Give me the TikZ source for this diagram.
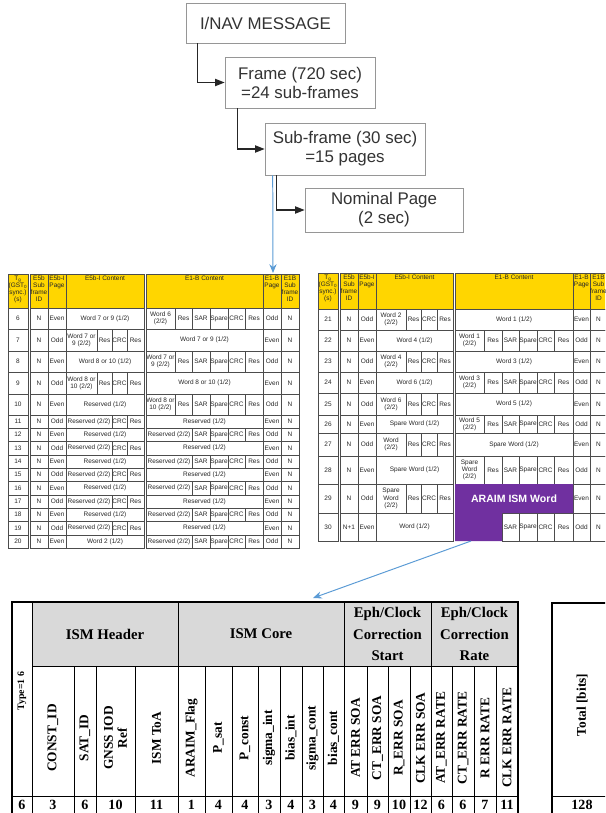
\documentclass[tikz,border=0pt]{standalone}
\usepackage{fontspec}
\setmainfont{Liberation Sans}
\newfontfamily\tnrfont{Liberation Serif}
\usetikzlibrary{arrows.meta}

\definecolor{hdryellow}{RGB}{255,214,0}
\definecolor{ismpurple}{RGB}{112,48,160}
\definecolor{linkblue}{RGB}{91,155,213}
\definecolor{hdrgray}{RGB}{217,217,217}
\definecolor{boxgray}{RGB}{150,150,150}

% one plain cell of the page tables
\newcommand{\tabcell}[5]{%
  \draw[grid] (#1,#2) rectangle (#3,#4);
  \node[cell] (c-#1-#2) at ({(#1+#3)/2},{(#2+#4)/2}) {#5};}
% yellow header cell, text at the top
\newcommand{\hdcell}[5]{%
  \draw[hdr] (#1,#2) rectangle (#3,#4);
  \node[cell, anchor=north] (h-#1-#2) at ({(#1+#3)/2},#2+1) {#5};}
% row start: time, sub-frame, E5b page
\newcommand{\lrow}[5]{%
  \tabcell{\tA}{#2}{\tB}{#3}{#1}\tabcell{\tC}{#2}{\tD}{#3}{#4}\tabcell{\tD}{#2}{\tE}{#3}{#5}}
% E5b-I content
\newcommand{\espan}[3]{\tabcell{\tE}{#1}{\tI}{#2}{#3}}
\newcommand{\eword}[3]{%
  \tabcell{\tE}{#1}{\tF}{#2}{#3}\tabcell{\tF}{#1}{\tG}{#2}{Res}%
  \tabcell{\tG}{#1}{\tH}{#2}{CRC}\tabcell{\tH}{#1}{\tI}{#2}{Res}}
\newcommand{\eres}[2]{%
  \tabcell{\tE}{#1}{\tG}{#2}{Reserved (2/2)}%
  \tabcell{\tG}{#1}{\tH}{#2}{CRC}\tabcell{\tH}{#1}{\tI}{#2}{Res}}
% E1-B content
\newcommand{\bspan}[3]{%
  \tabcell{\tJ}{#1}{\tP}{#2}{#3}\tabcell{\tP}{#1}{\tQ}{#2}{Even}\tabcell{\tQ}{#1}{\tR}{#2}{N}}
\newcommand{\btail}[2]{%
  \tabcell{\tL}{#1}{\tM}{#2}{SAR}\tabcell{\tM}{#1}{\tN}{#2}{Spare}%
  \tabcell{\tN}{#1}{\tO}{#2}{CRC}\tabcell{\tO}{#1}{\tP}{#2}{Res}%
  \tabcell{\tP}{#1}{\tQ}{#2}{Odd}\tabcell{\tQ}{#1}{\tR}{#2}{N}}
\newcommand{\bword}[3]{%
  \tabcell{\tJ}{#1}{\tK}{#2}{#3}\tabcell{\tK}{#1}{\tL}{#2}{Res}\btail{#1}{#2}}
\newcommand{\bres}[2]{\tabcell{\tJ}{#1}{\tL}{#2}{Reserved (2/2)}\btail{#1}{#2}}

\begin{document}
\begin{tikzpicture}[
    x=0.025cm, y=-0.025cm,
    lvl/.style={draw=boxgray, fill=white, align=center, inner sep=0pt, text=black!80,
      font=\fontsize{12}{13.5}\selectfont},
    arr/.style={-{Triangle[length=2.4mm, width=1.8mm]}, line width=0.9pt, draw=black!85},
    link/.style={-{Stealth[length=2.2mm, width=1.8mm]}, draw=linkblue, line width=0.7pt},
    grid/.style={draw=black!70, line width=0.4pt},
    hdr/.style={grid, fill=hdryellow},
    cell/.style={inner sep=0.2pt, align=center, text=black!85, font=\fontsize{4.6}{5.1}\selectfont},
    ism/.style={draw=black, line width=0.7pt},
    ismout/.style={draw=black, line width=1.4pt},
    grp/.style={align=center, font=\tnrfont\bfseries\fontsize{10.5}{15}\selectfont},
    vlab/.style={rotate=90, align=center, font=\tnrfont\bfseries\fontsize{9.5}{10}\selectfont},
    bits/.style={font=\tnrfont\bfseries\fontsize{10}{12}\selectfont}
  ]
  \useasboundingbox (0,0) rectangle (605,813);
  \clip (0,0) rectangle (605,813);

  % message hierarchy
  \node[lvl, minimum width=3.975cm, minimum height=1cm] (inav) at (265.5,23) {I/NAV MESSAGE};
  \node[lvl, minimum width=3.75cm, minimum height=1.275cm] (frame) at (300,82.5) {Frame (720 sec)\\=24 sub-frames};
  \node[lvl, minimum width=4cm, minimum height=1.3cm] (subfr) at (345,149) {Sub-frame (30 sec)\\=15 pages};
  \node[lvl, minimum width=3.95cm, minimum height=1.1cm] (page) at (384,210) {Nominal Page\\(2 sec)};
  \draw[arr] ([xshift=0.3cm]inav.south west) |- (frame.west);
  \draw[arr] ([xshift=0.325cm]frame.south west) |- (subfr.west);
  \draw[arr] ([xshift=0.3cm]subfr.south west) |- (page.west);
  \coordinate (ltop) at (273,273);
  \draw[link] ([xshift=0.2cm]subfr.south west) -- (ltop);

  % pages of sub-frame, left part
  \begin{scope}
    \def\tA{8}\def\tB{28}\def\tC{30}\def\tD{48}\def\tE{66}\def\tF{97}\def\tG{112}\def\tH{127}\def\tI{144}
    \def\tJ{146}\def\tK{175}\def\tL{192}\def\tM{210}\def\tN{228}\def\tO{245}\def\tP{263}\def\tQ{281}\def\tR{299}
    \hdcell{\tA}{274}{\tB}{308}{T\textsubscript{g}\\(GST\textsubscript{0}\\sync.)\\(s)}
    \hdcell{\tC}{274}{\tD}{308}{E5b\\Sub\\frame\\ID}
    \hdcell{\tD}{274}{\tE}{308}{E5b-I\\Page}
    \hdcell{\tE}{274}{\tI}{308}{E5b-I Content}
    \hdcell{\tJ}{274}{\tP}{308}{E1-B Content}
    \hdcell{\tP}{274}{\tQ}{308}{E1-B\\Page}
    \hdcell{\tQ}{274}{\tR}{308}{E1B\\Sub\\frame\\ID}
    \lrow{6}{308}{329}{N}{Even}\espan{308}{329}{Word 7 or 9 (1/2)}\bword{308}{329}{Word 6\\(2/2)}
    \lrow{7}{329}{351}{N}{Odd}\eword{329}{351}{Word 7 or\\9 (2/2)}\bspan{329}{351}{Word 7 or 9 (1/2)}
    \lrow{8}{351}{372}{N}{Even}\espan{351}{372}{Word 8 or 10 (1/2)}\bword{351}{372}{Word 7 or\\9 (2/2)}
    \lrow{9}{372}{394}{N}{Odd}\eword{372}{394}{Word 8 or\\10 (2/2)}\bspan{372}{394}{Word 8 or 10 (1/2)}
    \lrow{10}{394}{415}{N}{Even}\espan{394}{415}{Reserved (1/2)}\bword{394}{415}{Word 8 or\\10 (2/2)}
    \foreach \n/\ya/\yb in {11/415/428,12/428/441,13/441/455,14/455/468,15/468/481,
                            16/481/495,17/495/508,18/508/521,19/521/535}{
      \ifodd\n\relax
        \lrow{\n}{\ya}{\yb}{N}{Odd}\eres{\ya}{\yb}\bspan{\ya}{\yb}{Reserved (1/2)}
      \else
        \lrow{\n}{\ya}{\yb}{N}{Even}\espan{\ya}{\yb}{Reserved (1/2)}\bres{\ya}{\yb}
      \fi}
    \lrow{20}{535}{548}{N}{Even}\espan{535}{548}{Word 2 (1/2)}\bres{535}{548}
  \end{scope}

  % pages of sub-frame, right part
  \begin{scope}
    \def\tA{318}\def\tB{338}\def\tC{340}\def\tD{358}\def\tE{376}\def\tF{406}\def\tG{421}\def\tH{437}\def\tI{453}
    \def\tJ{455}\def\tK{484}\def\tL{502}\def\tM{519}\def\tN{537}\def\tO{554}\def\tP{573}\def\tQ{590}\def\tR{607}
    \hdcell{\tA}{273}{\tB}{309}{T\textsubscript{g}\\(GST\textsubscript{0}\\sync.)\\(s)}
    \hdcell{\tC}{273}{\tD}{309}{E5b\\Sub\\frame\\ID}
    \hdcell{\tD}{273}{\tE}{309}{E5b-I\\Page}
    \hdcell{\tE}{273}{\tI}{309}{E5b-I Content}
    \hdcell{\tJ}{273}{\tP}{309}{E1-B Content}
    \hdcell{\tP}{273}{\tQ}{309}{E1-B\\Page}
    \hdcell{\tQ}{273}{\tR}{309}{E1B\\Sub\\frame\\ID}
    \lrow{21}{309}{330}{N}{Odd}\eword{309}{330}{Word 2\\(2/2)}\bspan{309}{330}{Word 1 (1/2)}
    \lrow{22}{330}{351}{N}{Even}\espan{330}{351}{Word 4 (1/2)}\bword{330}{351}{Word 1\\(2/2)}
    \lrow{23}{351}{372}{N}{Odd}\eword{351}{372}{Word 4\\(2/2)}\bspan{351}{372}{Word 3 (1/2)}
    \lrow{24}{372}{393}{N}{Even}\espan{372}{393}{Word 6 (1/2)}\bword{372}{393}{Word 3\\(2/2)}
    \lrow{25}{393}{415}{N}{Odd}\eword{393}{415}{Word 6\\(2/2)}\bspan{393}{415}{Word 5 (1/2)}
    \lrow{26}{415}{433}{N}{Even}\espan{415}{433}{Spare Word (1/2)}\bword{415}{433}{Word 5\\(2/2)}
    \lrow{27}{433}{456}{N}{Odd}\eword{433}{456}{Word\\(2/2)}\bspan{433}{456}{Spare Word (1/2)}
    \lrow{28}{456}{484}{N}{Even}\espan{456}{484}{Spare Word (1/2)}\bword{456}{484}{Spare\\Word\\(2/2)}
    \lrow{29}{484}{513}{N}{Odd}\eword{484}{513}{Spare\\Word\\(2/2)}
    \tabcell{\tP}{484}{\tQ}{513}{Even}\tabcell{\tQ}{484}{\tR}{513}{N}
    \lrow{30}{513}{541}{N+1}{Even}\espan{513}{541}{Word (1/2)}\btail{513}{541}
    \fill[ismpurple] (\tJ,484) -- (\tP,484) -- (\tP,513) -- (\tL,513) -- (\tL,541) -- (\tJ,541) -- cycle;
    \node[text=white, font=\bfseries\fontsize{7.5}{9}\selectfont] (araim) at (514,498.5) {ARAIM ISM Word};
  \end{scope}
  \coordinate (araimfoot) at (471,541);
  \coordinate (ismtop) at (313,598);
  \draw[link] (araimfoot) -- (ismtop);

  % ISM word layout
  \fill[hdrgray] (32,602) rectangle (518,666);
  \draw[ism] (32,602) rectangle (178,666);
  \draw[ism] (178,602) rectangle (344,666);
  \draw[ism] (344,602) rectangle (431,666);
  \draw[ism] (431,602) rectangle (518,666);
  \node[grp] (hdr) at (105,634) {ISM Header};
  \node[grp] (core) at (261,634) {ISM Core};
  \node[grp] (soa) at (387.5,634) {Eph/Clock\\Correction\\Start};
  \node[grp] (rate) at (474.5,634) {Eph/Clock\\Correction\\Rate};
  \draw[ism] (12,602) rectangle (32,796);
  \draw[ism] (12,796) rectangle (32,816);
  \node[vlab, anchor=east, font=\tnrfont\bfseries\fontsize{7}{8}\selectfont] (type) at (22,667) {Type=1 6};
  \node[bits] (bits0) at (22,805) {6};
  \foreach \xa/\xb/\lab/\nb [count=\k] in {
      32/74/CONST\_ID/3, 74/96/SAT\_ID/6, 96/135/{GNSS IOD\\Ref}/10, 135/178/ISM ToA/11,
      178/205/ARAIM\_Flag/1, 205/232/P\_sat/4, 232/258/P\_const/4, 258/280/sigma\_int/3,
      280/302/bias\_int/4, 302/323/sigma\_cont/3, 323/344/bias\_cont/4,
      344/367/AT ERR SOA/9, 367/388/CT\_ERR SOA/9, 388/410/R\_ERR SOA/10, 410/431/CLK ERR SOA/12,
      431/452/AT\_ERR RATE/6, 452/474/CT\_ERR RATE/6, 474/496/R ERR RATE/7, 496/518/CLK ERR RATE/11}{
    \draw[ism] (\xa,666) rectangle (\xb,796);
    \draw[ism] (\xa,796) rectangle (\xb,816);
    \node[vlab] (lab\k) at ({(\xa+\xb)/2},738) {\lab};
    \node[bits] (bits\k) at ({(\xa+\xb)/2},805) {\nb};
  }
  \draw[ismout] (12,602) rectangle (518,816);

  % total size
  \draw[ism] (552,796) -- (612,796);
  \draw[ismout] (552,603) rectangle (612,816);
  \node[vlab] (total) at (582,705) {Total [bits]};
  \node[bits] (bitsum) at (582,805) {128};
\end{tikzpicture}
\end{document}
